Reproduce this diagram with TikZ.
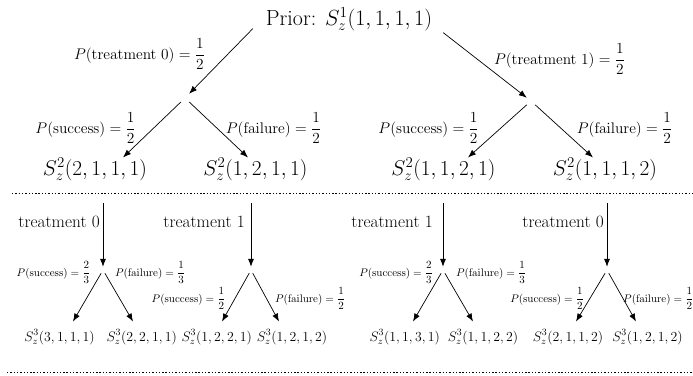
\documentclass[tikz,border=0pt]{standalone}
\usepackage{fix-cm}
\usetikzlibrary{arrows.meta}
\newcommand\dfr[2]{{\displaystyle\frac{#1}{#2}}}
\begin{document}
\begin{tikzpicture}[x=1pt,y=-1pt,
  prior/.style={font=\fontsize{21.9}{26}\selectfont, inner sep=0pt},
  big/.style={font=\fontsize{21.3}{25}\selectfont, inner sep=0pt},
  prob/.style={font=\fontsize{15.4}{18}\selectfont, inner sep=0pt},
  trt/.style={font=\fontsize{17.3}{20}\selectfont, inner sep=0pt},
  small/.style={font=\fontsize{13.8}{16}\selectfont, inner sep=0pt},
  sprob/.style={font=\fontsize{11}{13}\selectfont, inner sep=0pt},
  mid/.style={inner sep=0pt, minimum size=8pt},
  smid/.style={inner sep=0pt, minimum size=6pt},
  arr/.style={-{Latex[length=8pt,width=6pt]}, line width=0.7pt},
  sep/.style={line width=0.9pt, dash pattern=on 1.4pt off 1.9pt}
]
\useasboundingbox (0,0) rectangle (693,375);

% ---------- top tree ----------
\node[prior, anchor=base] (prior) at (349,25) {Prior: $S_z^1(1,1,1,1)$};

\node[mid] (m0) at (185,98) {};
\node[mid] (m1) at (531,101) {};

\node[big, anchor=base] (s2a) at (95,175) {$S_z^2(2,1,1,1)$};
\node[big, anchor=base] (s2b) at (255.5,175) {$S_z^2(1,2,1,1)$};
\node[big, anchor=base] (s2c) at (443.5,175) {$S_z^2(1,1,2,1)$};
\node[big, anchor=base] (s2d) at (605,175) {$S_z^2(1,1,1,2)$};

\draw[arr] ([xshift=-13pt,yshift=2pt]prior.south west) -- (m0);
\draw[arr] ([xshift=11pt,yshift=-2pt]prior.south east) -- (m1);

\draw[arr] (m0) -- ([xshift=28pt]s2a.north);
\draw[arr] (m0) -- ([xshift=-7.5pt]s2b.north);
\draw[arr] (m1) -- ([xshift=24.5pt]s2c.north);
\draw[arr] (m1) -- ([xshift=-12pt]s2d.north);

\node[prob, anchor=base] (pt0) at (139.5,59) {$P(\mathrm{treatment\ 0})=\dfr{1}{2}$};
\node[prob, anchor=base] (pt1) at (559.5,64) {$P(\mathrm{treatment\ 1})=\dfr{1}{2}$};
\node[prob, anchor=base] (ps0) at (85.5,133) {$P(\mathrm{success})=\dfr{1}{2}$};
\node[prob, anchor=base] (pf0) at (273.5,133) {$P(\mathrm{failure})=\dfr{1}{2}$};
\node[prob, anchor=base] (ps1) at (428.5,133) {$P(\mathrm{success})=\dfr{1}{2}$};
\node[prob, anchor=base] (pf1) at (624.5,133) {$P(\mathrm{failure})=\dfr{1}{2}$};

% ---------- separators ----------
\draw[sep] (12,193.5) -- (692,193.5);
\draw[sep] (7,372) -- (693,372);

% ---------- bottom trees ----------
\coordinate (t1) at (103,203);
\coordinate (t2) at (251,203);
\coordinate (t3) at (443,203);
\coordinate (t4) at (607,203);

\node[smid] (b1) at (103,270) {};
\node[smid] (b2) at (251,270) {};
\node[smid] (b3) at (443,270) {};
\node[smid] (b4) at (607,270) {};

\draw[arr] (t1) -- (b1);
\draw[arr] (t2) -- (b2);
\draw[arr] (t3) -- (b3);
\draw[arr] (t4) -- (b4);

\node[trt, anchor=base east] (l1) at (100,227) {treatment 0};
\node[trt, anchor=base east] (l2) at (245,227) {treatment 1};
\node[trt, anchor=base east] (l3) at (433,227) {treatment 1};
\node[trt, anchor=base east] (l4) at (604,227) {treatment 0};

\node[small, anchor=base] (s3a) at (59.5,341) {$S_z^3(3,1,1,1)$};
\node[small, anchor=base] (s3b) at (141.7,341) {$S_z^3(2,2,1,1)$};
\node[small, anchor=base] (s3c) at (216.7,341) {$S_z^3(1,2,2,1)$};
\node[small, anchor=base] (s3d) at (292,341) {$S_z^3(1,2,1,2)$};
\node[small, anchor=base] (s3e) at (404.7,341) {$S_z^3(1,1,3,1)$};
\node[small, anchor=base] (s3f) at (483,341) {$S_z^3(1,1,2,2)$};
\node[small, anchor=base] (s3g) at (568,341) {$S_z^3(2,1,1,2)$};
\node[small, anchor=base] (s3h) at (647.5,341) {$S_z^3(1,2,1,2)$};

\draw[arr] (b1) -- ([xshift=13.5pt,yshift=8pt]s3a.north);
\draw[arr] (b1) -- ([xshift=-8.7pt,yshift=8pt]s3b.north);
\draw[arr] (b2) -- ([xshift=5.3pt,yshift=8pt]s3c.north);
\draw[arr] (b2) -- ([xshift=-13pt,yshift=8pt]s3d.north);
\draw[arr] (b3) -- ([xshift=8.3pt,yshift=8pt]s3e.north);
\draw[arr] (b3) -- ([xshift=-10pt,yshift=8pt]s3f.north);
\draw[arr] (b4) -- ([xshift=8pt,yshift=8pt]s3g.north);
\draw[arr] (b4) -- ([xshift=-11.5pt,yshift=8pt]s3h.north);

\node[sprob, anchor=base] (q1s) at (53.5,276) {$P(\mathrm{success})=\dfr{2}{3}$};
\node[sprob, anchor=base] (q1f) at (150,276) {$P(\mathrm{failure})=\dfr{1}{3}$};
\node[sprob, anchor=base] (q2s) at (188.5,302) {$P(\mathrm{success})=\dfr{1}{2}$};
\node[sprob, anchor=base] (q2f) at (310,302) {$P(\mathrm{failure})=\dfr{1}{2}$};
\node[sprob, anchor=base] (q3s) at (396,276) {$P(\mathrm{success})=\dfr{2}{3}$};
\node[sprob, anchor=base] (q3f) at (491,276) {$P(\mathrm{failure})=\dfr{1}{3}$};
\node[sprob, anchor=base] (q4s) at (547,302) {$P(\mathrm{success})=\dfr{1}{2}$};
\node[sprob, anchor=base west] (q4f) at (623,302) {$P(\mathrm{failure})=\dfr{1}{2}$};
\end{tikzpicture}
\end{document}
